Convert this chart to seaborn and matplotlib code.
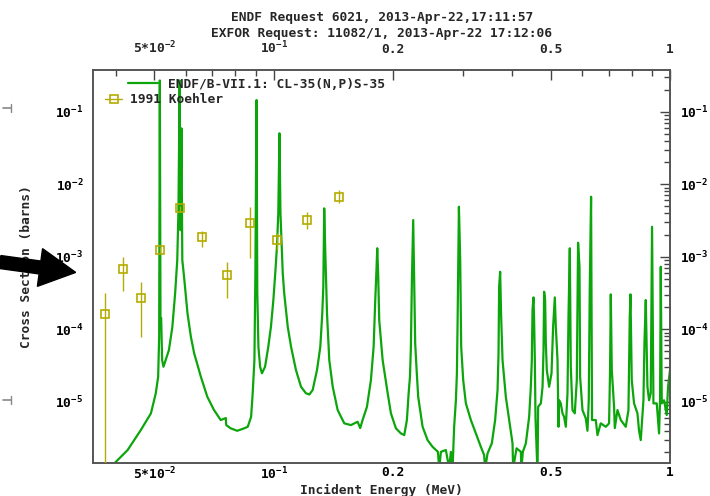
import matplotlib
matplotlib.use("Agg")
import matplotlib.pyplot as plt
import matplotlib.patches as mpatches
from matplotlib.lines import Line2D
from matplotlib.ticker import FixedLocator, FixedFormatter, LogLocator, NullFormatter
import pandas as pd
import seaborn as sns

# ENDF/B-VII.1 evaluated curve (energy in MeV, cross section in barns)
endf_energy = [0.0372, 0.0428, 0.0462, 0.0490, 0.0504, 0.0511, 0.0514, 0.0516, 0.0518, 0.0520,
               0.0523, 0.0527, 0.0544, 0.0555, 0.0564, 0.0571, 0.0575, 0.0579, 0.0582, 0.0585,
               0.0588, 0.0594, 0.0606, 0.0618, 0.0630, 0.0655, 0.0680, 0.0707, 0.0735, 0.0757,
               0.0759, 0.0779, 0.0809, 0.0842, 0.0860, 0.0877, 0.0885, 0.0894, 0.0899, 0.0905,
               0.0909, 0.0915, 0.0924, 0.0934, 0.0951, 0.0969, 0.0984, 0.0998, 0.1009, 0.1019,
               0.1027, 0.1034, 0.1040, 0.1054, 0.1063, 0.1085, 0.1106, 0.1138, 0.1172, 0.1206,
               0.1230, 0.1254, 0.1286, 0.1311, 0.1326, 0.1334, 0.1341, 0.1349, 0.1363, 0.1381,
               0.1409, 0.1450, 0.1507, 0.1566, 0.1628, 0.1653, 0.1676, 0.1719, 0.1759, 0.1787,
               0.1804, 0.1814, 0.1825, 0.1835, 0.1846, 0.1883, 0.1939, 0.1976, 0.2034, 0.2094,
               0.2135, 0.2168, 0.2190, 0.2207, 0.2219, 0.2232, 0.2249, 0.2262, 0.2275, 0.2294,
               0.2315, 0.2375, 0.2445, 0.2517, 0.2596, 0.2616, 0.2642, 0.2719, 0.2772, 0.2799,
               0.2827, 0.2853, 0.2882, 0.2899, 0.2911, 0.2933, 0.2955, 0.2972, 0.3007, 0.3054,
               0.3144, 0.3236, 0.3332, 0.3396, 0.3416, 0.3464, 0.3551, 0.3620, 0.3671, 0.3692,
               0.3705, 0.3727, 0.3749, 0.3779, 0.3852, 0.3927, 0.4005, 0.4019, 0.4100, 0.4204,
               0.4216, 0.4253, 0.4327, 0.4411, 0.4454, 0.4480, 0.4498, 0.4524, 0.4540, 0.4559,
               0.4577, 0.4631, 0.4647, 0.4721, 0.4768, 0.4795, 0.4812, 0.4840, 0.4860, 0.4888,
               0.4954, 0.5023, 0.5070, 0.5120, 0.5150, 0.5201, 0.5231, 0.5249, 0.5301, 0.5354,
               0.5403, 0.5458, 0.5512, 0.5544, 0.5586, 0.5618, 0.5674, 0.5750, 0.5818, 0.5861,
               0.5910, 0.5931, 0.6013, 0.6129, 0.6190, 0.6237, 0.6273, 0.6321, 0.6357, 0.6496,
               0.6560, 0.6688, 0.6885, 0.7018, 0.7058, 0.7088, 0.7129, 0.7225, 0.7255, 0.7369,
               0.7512, 0.7732, 0.7854, 0.7914, 0.7947, 0.8006, 0.8114, 0.8276, 0.8353, 0.8436,
               0.8569, 0.8619, 0.8685, 0.8770, 0.8853, 0.8940, 0.9008, 0.9081, 0.9258, 0.9383,
               0.9437, 0.9476, 0.9531, 0.9658, 0.9810, 0.9885, 1.0000]
endf_xs = [1.0e-6, 2.16e-6, 4.07e-6, 6.92e-6, 1.31e-5, 2.21e-5, 7.88e-5, 2.7e-1, 1.34e-4, 1.43e-4,
           3.76e-5, 3.04e-5, 5.16e-5, 1.08e-4, 3.13e-4, 9.0e-4, 4.41e-3, 2.7e-1, 2.33e-3, 5.90e-2,
           9.0e-4, 5.30e-4, 1.66e-4, 7.88e-5, 4.65e-5, 2.21e-5, 1.17e-5, 7.69e-6, 5.60e-6, 5.96e-6,
           4.77e-6, 4.30e-6, 3.98e-6, 4.30e-6, 4.52e-6, 6.21e-6, 1.31e-5, 3.76e-5, 5.90e-4, 1.45e-1,
           3.16e-4, 5.74e-5, 3.04e-5, 2.47e-5, 3.04e-5, 5.74e-5, 1.08e-4, 2.53e-4, 5.90e-4, 1.37e-3,
           3.97e-3, 5.04e-2, 3.97e-3, 5.90e-4, 3.13e-4, 1.08e-4, 5.74e-5, 2.74e-5, 1.61e-5, 1.31e-5,
           1.26e-5, 1.45e-5, 2.74e-5, 5.74e-5, 1.66e-4, 3.85e-4, 4.65e-3, 1.24e-3, 1.66e-4, 3.76e-5,
           1.61e-5, 7.69e-6, 5.04e-6, 4.77e-6, 5.30e-6, 4.34e-6, 5.60e-6, 8.53e-6, 1.99e-5, 5.74e-5,
           2.53e-4, 5.30e-4, 1.31e-3, 5.60e-4, 1.34e-4, 3.76e-5, 1.31e-5, 6.92e-6, 4.30e-6, 3.66e-6,
           3.47e-6, 5.60e-6, 1.31e-5, 2.21e-5, 5.74e-5, 4.77e-4, 3.21e-3, 4.07e-4, 6.40e-5, 2.74e-5,
           1.17e-5, 4.52e-6, 2.96e-6, 2.39e-6, 2.04e-6, 1.2e-6, 2.04e-6, 2.16e-6, 1.2e-6, 2.04e-6,
           1.2e-6, 4.52e-6, 1.05e-5, 2.47e-5, 1.34e-4, 4.90e-3, 9.0e-4, 5.74e-5, 1.99e-5, 9.5e-6,
           5.60e-6, 3.66e-6, 2.39e-6, 1.84e-6, 1.2e-6, 1.94e-6, 2.67e-6, 5.60e-6, 1.45e-5, 4.65e-5,
           3.85e-4, 6.21e-4, 1.49e-4, 3.76e-5, 1.17e-5, 5.60e-6, 2.67e-6, 1.2e-6, 2.28e-6, 2.04e-6,
           1.2e-6, 2.04e-6, 2.67e-6, 6.21e-6, 1.61e-5, 3.76e-5, 1.84e-4, 2.75e-4, 1.34e-4, 3.76e-5,
           5.90e-6, 1.0e-6, 8.53e-6, 9.5e-6, 1.61e-5, 5.16e-5, 3.29e-4, 2.53e-4, 6.40e-5, 2.74e-5,
           1.61e-5, 2.47e-5, 1.08e-4, 2.75e-4, 1.08e-4, 3.76e-5, 4.52e-6, 1.05e-5, 9.5e-6, 6.92e-6,
           6.21e-6, 4.52e-6, 1.31e-5, 1.49e-4, 1.31e-3, 3.04e-5, 7.69e-6, 6.92e-6, 1.99e-5, 1.56e-3,
           7.28e-4, 2.21e-5, 7.69e-6, 5.90e-6, 3.98e-6, 1.05e-5, 3.85e-4, 6.73e-3, 5.60e-6, 5.60e-6,
           3.47e-6, 5.04e-6, 4.52e-6, 5.04e-6, 2.74e-5, 3.03e-4, 2.74e-5, 8.53e-6, 4.34e-6, 7.69e-6,
           5.60e-6, 4.52e-6, 7.69e-6, 1.49e-4, 3.03e-4, 1.99e-5, 9.5e-6, 6.92e-6, 3.98e-6, 2.96e-6,
           1.05e-5, 6.40e-5, 2.53e-4, 1.61e-5, 1.05e-5, 1.31e-5, 2.59e-3, 9.5e-6, 9.5e-6, 3.66e-6,
           1.05e-5, 7.28e-4, 9.5e-6, 1.05e-5, 6.56e-6, 1.61e-5, 2.74e-5]

# 1991 Koehler measurement with error bar ends
koehler_energy = [0.0376, 0.0416, 0.0463, 0.0517, 0.0581, 0.0659, 0.0761, 0.0873, 0.1018, 0.1213, 0.1461]
koehler_xs = [1.60e-4, 6.70e-4, 2.67e-4, 1.24e-3, 4.66e-3, 1.87e-3, 5.60e-4, 2.89e-3, 1.68e-3, 3.21e-3, 6.73e-3]
koehler_lo = [1.0e-7, 3.37e-4, 7.8e-5, 1.12e-3, 4.3e-3, 1.35e-3, 2.72e-4, 9.5e-4, 1.24e-3, 2.41e-3, 5.51e-3]
koehler_hi = [3.16e-4, 1.0e-3, 4.48e-4, 1.36e-3, 5.0e-3, 2.29e-3, 8.53e-4, 4.90e-3, 2.12e-3, 4.09e-3, 8.33e-3]

x_ticks = [0.05, 0.1, 0.2, 0.5, 1.0]
x_ticklabels = [r"5*$10^{-2}$", r"$10^{-1}$", "0.2", "0.5", "1"]
x_minor = [0.04, 0.06, 0.07, 0.08, 0.09, 0.3, 0.4, 0.6, 0.7, 0.8, 0.9]
y_ticks = [1e-5, 1e-4, 1e-3, 1e-2, 1e-1]
y_ticklabels = [r"$10^{-5}$", r"$10^{-4}$", r"$10^{-3}$", r"$10^{-2}$", r"$10^{-1}$"]

green = "#0ca60c"
olive = "#b4ac00"
mono = "DejaVu Sans Mono"

sns.set_style("white")
plt.rcParams["font.family"] = [mono]
plt.rcParams["font.weight"] = "bold"
plt.rcParams["mathtext.fontset"] = "custom"
plt.rcParams["mathtext.rm"] = "DejaVu Sans Mono:bold"
plt.rcParams["mathtext.it"] = "DejaVu Sans Mono:bold"
plt.rcParams["mathtext.bf"] = "DejaVu Sans Mono:bold"

fig = plt.figure(figsize=(7.1, 4.96), dpi=100)
ax = fig.add_axes([0.131, 0.0665, 0.8127, 0.7923])

endf = pd.DataFrame({"energy": endf_energy, "xs": endf_xs})
sns.lineplot(data=endf, x="energy", y="xs", sort=False, estimator=None,
             color=green, lw=1.6, ax=ax, legend=False)

yerr = [[v - lo for v, lo in zip(koehler_xs, koehler_lo)],
        [hi - v for v, hi in zip(koehler_xs, koehler_hi)]]
ax.errorbar(koehler_energy, koehler_xs, yerr=yerr, fmt="s", ms=6, mfc="none",
            mec=olive, mew=1.2, ecolor=olive, elinewidth=1.0, capsize=0, zorder=3)

ax.set_xscale("log")
ax.set_yscale("log")
ax.set_xlim(0.035, 1.0)
ax.set_ylim(1.43e-6, 0.376)

ax.xaxis.set_major_locator(FixedLocator(x_ticks))
ax.xaxis.set_major_formatter(FixedFormatter(x_ticklabels))
ax.xaxis.set_minor_locator(FixedLocator(x_minor))
ax.xaxis.set_minor_formatter(NullFormatter())
ax.yaxis.set_major_locator(FixedLocator(y_ticks))
ax.yaxis.set_major_formatter(FixedFormatter(y_ticklabels))
ax.yaxis.set_minor_locator(LogLocator(base=10, subs=range(2, 10), numticks=20))
ax.yaxis.set_minor_formatter(NullFormatter())

ax.tick_params(which="both", direction="in", top=True, right=True,
               labeltop=False, labelright=True, colors="#444444", labelcolor="black",
               labelsize=9.3)
ax.tick_params(which="major", length=7, width=1.0)
ax.tick_params(which="minor", length=4.5, width=1.0)
ax.tick_params(axis="x", pad=2)
ax.tick_params(axis="y", pad=7)
for s in ax.spines.values():
    s.set_color("#555555")
    s.set_linewidth(1.4)

# top energy labels sit further from the frame than the bottom ones
top = ax.secondary_xaxis("top")
top.xaxis.set_major_locator(FixedLocator(x_ticks))
top.xaxis.set_major_formatter(FixedFormatter(x_ticklabels))
top.xaxis.set_minor_locator(FixedLocator(x_minor))
top.xaxis.set_minor_formatter(NullFormatter())
top.tick_params(which="both", length=0, pad=10, labelsize=9.3)
top.spines["top"].set_visible(False)

ax.set_xlabel("Incident Energy (MeV)", fontsize=9.3, fontweight="bold")
ax.xaxis.set_label_coords(0.5, -0.052)
ax.set_ylabel("Cross Section (barns)", fontsize=9.3, fontweight="bold")
ax.yaxis.set_label_coords(-0.104, 0.5)

fig.text(0.538, 0.964, "ENDF Request 6021, 2013-Apr-22,17:11:57",
         ha="center", va="center", fontsize=9.3, fontweight="bold")
fig.text(0.538, 0.932, "EXFOR Request: 11082/1, 2013-Apr-22 17:12:06",
         ha="center", va="center", fontsize=9.3, fontweight="bold")

h1 = Line2D([], [], color=green, lw=1.6)
leg1 = ax.legend([h1], ["ENDF/B-VII.1: CL-35(N,P)S-35"], loc="upper left",
                 bbox_to_anchor=(0.061, 0.980), frameon=False, borderpad=0,
                 borderaxespad=0, handlelength=2.3, handletextpad=0.8,
                 prop={"family": mono, "weight": "bold", "size": 9.3})
ax.add_artist(leg1)
h2 = Line2D([], [], color=olive, lw=1.0, marker="s", ms=6, mfc="none", mec=olive, mew=1.2)
ax.legend([h2], ["1991 Koehler"], loc="upper left",
          bbox_to_anchor=(0.021, 0.941), frameon=False, borderpad=0,
          borderaxespad=0, handlelength=1.3, handletextpad=0.6,
          prop={"family": mono, "weight": "bold", "size": 9.3})

# arrow and small marks at the left edge of the page
arrow = mpatches.FancyArrow(0.0, 2.34, 0.40, -0.055, width=0.13, head_width=0.38,
                            head_length=0.36, length_includes_head=False,
                            color="black", transform=fig.dpi_scale_trans)
fig.patches.append(arrow)
for yy in [3.88, 0.96]:
    fig.lines.append(Line2D([0.03, 0.11], [yy, yy], color="#888888", lw=1.2,
                            transform=fig.dpi_scale_trans))
    fig.lines.append(Line2D([0.11, 0.11], [yy - 0.04, yy + 0.04], color="#888888", lw=1.0,
                            transform=fig.dpi_scale_trans))

fig.savefig("out.png", dpi=100)
